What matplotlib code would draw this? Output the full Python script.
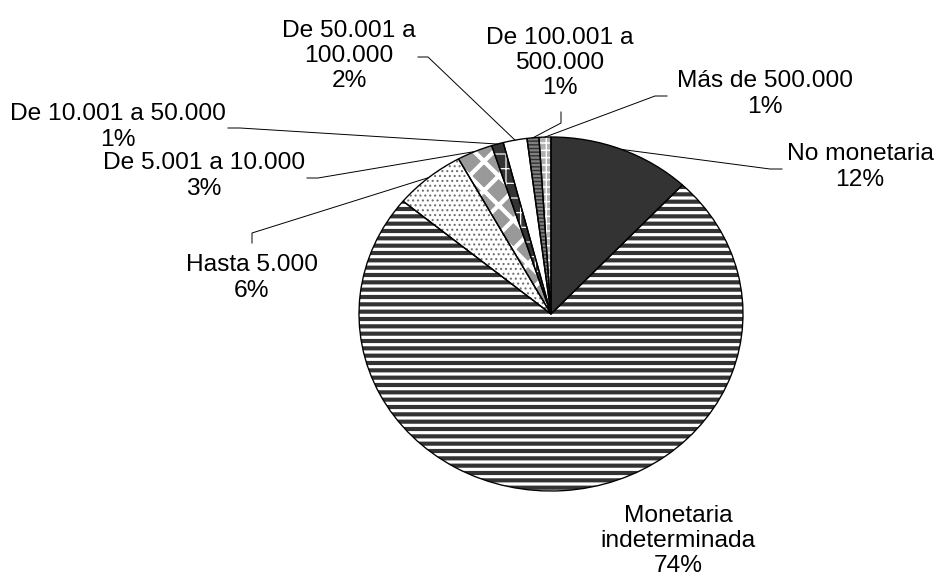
import numpy as np
import matplotlib
matplotlib.use("Agg")
import matplotlib.pyplot as plt

# Distribución por cuantía
categories = [
    "No monetaria",
    "Monetaria\nindeterminada",
    "Hasta 5.000",
    "De 5.001 a 10.000",
    "De 10.001 a 50.000",
    "De 50.001 a\n100.000",
    "De 100.001 a\n500.000",
    "Más de 500.000",
]
percent = [12, 74, 6, 3, 1, 2, 1, 1]

# Relleno de cada porción: color de fondo, trama, color de trama, grosor de trama
face_colors = ["#333333", "white", "white", "#999999", "#333333", "white", "#808080", "#b0b0b0"]
hatches = ["", "--", "...", "x", "+", "", "----", "++"]
hatch_colors = ["#333333", "#333333", "#707070", "white", "white", "white", "#333333", "white"]
hatch_widths = [1.0, 3.4, 1.0, 3.5, 1.0, 1.0, 1.2, 1.2]

# Geometría en píxeles de la figura (centro y radios de la elipse)
W, H, DPI = 940, 579, 88
CX, CY, RX, RY = 551, 314, 192, 177

# Posición de cada rótulo y tramo final de su línea guía (píxeles)
label_pos = [(860, 167), (678, 541), (252, 278), (204, 176),
             (118, 127), (349, 56), (560, 63), (765, 94)]
leader_knees = [
    [(770, 169), (782, 169)],
    None,
    [(252, 233), (252, 243)],
    [(318, 178), (307, 178)],
    [(240, 128), (228, 128)],
    [(428, 57), (418, 57)],
    [(561, 123), (561, 112)],
    [(655, 96), (667, 96)],
]


def px(x, y):
    return (x - CX) / RX, (CY - y) / RY


plt.rcParams["font.family"] = ["Liberation Sans", "DejaVu Sans"]

fig = plt.figure(figsize=(W / DPI, H / DPI), dpi=DPI)
ax = fig.add_axes([0, 0, 1, 1])

wedges, _ = ax.pie(percent, startangle=90, counterclock=False, radius=1,
                   wedgeprops=dict(linewidth=0))
for w, fc, h, hc, hlw in zip(wedges, face_colors, hatches, hatch_colors, hatch_widths):
    w.set_facecolor(fc)
    w.set_edgecolor(hc)
    w.set_linewidth(0)
    if h:
        w.set_hatch(h)
        if hasattr(w, "set_hatch_linewidth"):
            w.set_hatch_linewidth(hlw)

# contornos negros por encima de las tramas
ax.pie(percent, startangle=90, counterclock=False, radius=1,
       wedgeprops=dict(fill=False, edgecolor="black", linewidth=1.1))

ax.set_aspect("auto")
ax.set_xlim((0 - CX) / RX, (W - CX) / RX)
ax.set_ylim((CY - H) / RY, CY / RY)
ax.axis("off")

for w, cat, pct, pos, knee in zip(wedges, categories, percent, label_pos, leader_knees):
    tx, ty = px(*pos)
    ax.text(tx, ty, f"{cat}\n{pct}%", ha="center", va="center",
            multialignment="center", fontsize=20, color="black")
    if knee is None:
        continue
    mid = np.deg2rad((w.theta1 + w.theta2) / 2)
    pts = [(np.cos(mid), np.sin(mid))] + [px(*k) for k in knee]
    xs, ys = zip(*pts)
    ax.plot(xs, ys, color="black", linewidth=0.8)

fig.savefig("out.png", dpi=DPI)
